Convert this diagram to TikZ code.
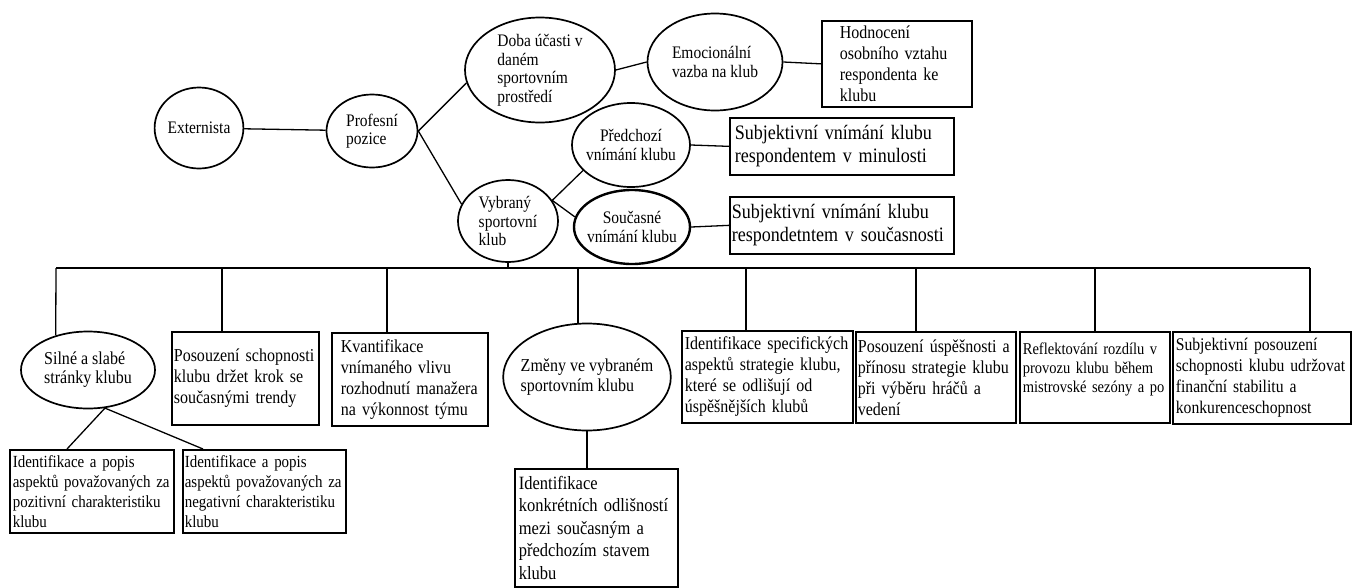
\documentclass[tikz,border=0pt]{standalone}
\usepackage{fontspec}
\setmainfont[FakeStretch=0.88]{Liberation Serif}
\usepackage{tikz}
\usetikzlibrary{shapes.geometric}
\tikzset{ovl/.style={ellipse, draw, line width=1.7pt, inner sep=0pt, align=left, font=\fontsize{17.6}{18.5}\selectfont},
	rbox/.style={rectangle, draw, line width=1.7pt, anchor=north west, align=left, inner ysep=2pt, font=\fontsize{18.2}{21}\selectfont},
	link/.style={line width=1.3pt}
}

\begin{document}
\begin{tikzpicture}[x=1pt, y=-1pt]
			\useasboundingbox (0,0) rectangle (1353,587);
			% upper part
			\node[ovl, minimum width=88, minimum height=81] (ext) at (199,128) {Externista};
			\node[ovl, minimum width=91, minimum height=73] (prof) at (372,131) {Profesní\\pozice};
			\node[ovl, minimum width=150, minimum height=105] (doba) at (540,70) {Doba účasti v\\daném\\sportovním\\prostředí};
			\node[ovl, minimum width=135, minimum height=97] (emo) at (715,62) {Emocionální\\vazba na klub};
			\node[ovl, minimum width=100, minimum height=82] (klub) at (508,221) {Vybraný\\sportovní\\klub};
			\node[ovl, align=center, inner xsep=-4pt, minimum width=118, minimum height=84] (pred) at (631,145) {Předchozí\\vnímání klubu};
			\node[ovl, align=center, inner xsep=-4pt, line width=2.4pt, minimum width=116, minimum height=74] (soucas) at (632,227) {Současné\\vnímání klubu};
			\node[rbox, inner xsep=18pt, text width=114pt, minimum height=86] (hodn) at (821,20) {Hodnocení\\osobního vztahu\\respondenta ke\\klubu};
			\node[rbox, inner xsep=5pt, text width=214pt, minimum height=57, font=\fontsize{20.5}{23}\selectfont] (subj1) at (729,117) {Subjektivní vnímání klubu\\respondentem v minulosti};
			\node[rbox, inner xsep=2pt, text width=220pt, minimum height=57, font=\fontsize{20.5}{23}\selectfont] (subj2) at (729,196) {Subjektivní vnímání klubu\\respondetntem v současnosti};
			\draw[link] (ext) -- (prof);
			\draw[link] (prof.east) -- (doba.190);
			\draw[link] (prof.east) -- (klub.160);
			\draw[link] (doba.east) -- (emo.west);
			\draw[link] (emo.east) -- (hodn.west);
			\draw[link] (klub.25) -- (pred.208);
			\draw[link] (klub.25) -- (soucas.170);
			\draw[link] (pred.east) -- (subj1.west);
			\draw[link] (soucas.east) -- (subj2.west);
			% lower part
			\node[ovl, font=\fontsize{18.2}{19}\selectfont, minimum width=134, minimum height=77] (silne) at (88,370) {Silné a slabé\\stránky klubu};
			\node[rbox, inner xsep=2pt, text width=143pt, minimum height=93] (posouz) at (171,331) {Posouzení schopnosti\\klubu držet krok se\\současnými trendy};
			\node[rbox, inner xsep=9pt, text width=138pt, minimum height=93] (kvant) at (331,332) {Kvantifikace\\vnímaného vlivu\\rozhodnutí manažera\\na výkonnost týmu};
			\node[ovl, font=\fontsize{18.2}{19.5}\selectfont, inner xsep=-7pt, minimum width=167, minimum height=107] (zmeny) at (587,377) {Změny ve vybraném\\sportovním klubu};
			\node[rbox, inner xsep=3pt, text width=165pt, minimum height=92] (ident) at (681,330) {Identifikace specifických\\aspektů strategie klubu,\\které se odlišují od\\úspěšnějších klubů};
			\node[rbox, inner xsep=2pt, text width=156pt, minimum height=91] (uspes) at (855,331) {Posouzení úspěšnosti a\\přínosu strategie klubu\\při výběru hráčů a\\vedení};
			\node[rbox, inner xsep=3pt, text width=144pt, minimum height=91, font=\fontsize{16.5}{19}\selectfont] (refl) at (1019,331) {Reflektování rozdílu v\\provozu klubu během\\mistrovské sezóny a po\\\mbox{}};
			\node[rbox, inner xsep=3pt, text width=172pt, minimum height=92, font=\fontsize{17.8}{21}\selectfont] (finan) at (1172,331) {Subjektivní posouzení\\schopnosti klubu udržovat\\finanční stabilitu a\\konkurenceschopnost};
			\node[rbox, inner xsep=3pt, text width=158pt, minimum height=83, font=\fontsize{17}{20}\selectfont] (pozit) at (9,449) {Identifikace a popis\\aspektů považovaných za\\pozitivní charakteristiku\\klubu};
			\node[rbox, inner xsep=2pt, text width=159pt, minimum height=83, font=\fontsize{17}{20}\selectfont] (negat) at (182,449) {Identifikace a popis\\aspektů považovaných za\\negativní charakteristiku\\klubu};
			\node[rbox, inner xsep=4pt, text width=155pt, minimum height=118, font=\fontsize{18.75}{22.5}\selectfont] (konkr) at (514,468) {Identifikace\\konkrétních odlišností\\mezi současným a\\předchozím stavem\\klubu};
			% bus
			\coordinate (t1) at (56,268);
			\coordinate (t2) at (222,268);
			\coordinate (t3) at (387,268);
			\coordinate (t4) at (578,268);
			\coordinate (t5) at (746,268);
			\coordinate (t6) at (916,268);
			\coordinate (t7) at (1095,268);
			\coordinate (t8) at (1310,268);
			\draw[link] (t1) -- (t8);
			\draw[link] (klub.south) -- (klub.south |- t1);
			\draw[link] (t1) -- (silne.133);
			\foreach \t/\n in {t2/posouz, t3/kvant, t4/zmeny, t5/ident, t6/uspes, t7/refl, t8/finan}
				\draw[link] (\t) -- (\t |- \n.north);
			\draw[link] (silne.-66) -- ([xshift=58pt]pozit.north west);
			\draw[link] (silne.-66) -- ([xshift=21pt]negat.north west);
			\draw[link] (zmeny.south) -- (zmeny.south |- konkr.north);
		\end{tikzpicture}
\end{document}
